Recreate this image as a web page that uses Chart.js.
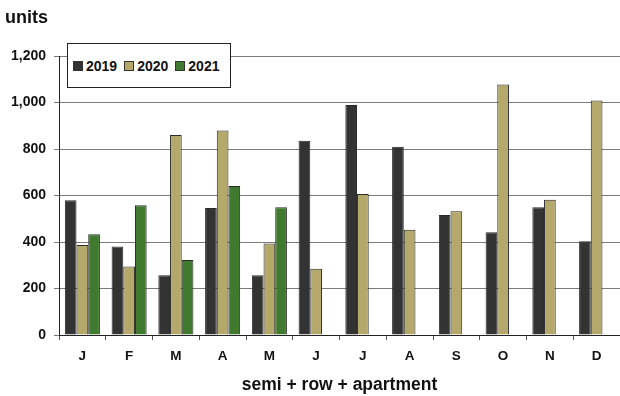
<!DOCTYPE html>
<html>
<head>
<meta charset="utf-8">
<script src="https://cdn.jsdelivr.net/npm/chart.js@4"></script>
<style>
  html, body { margin: 0; padding: 0; background: #fff; }
  #wrap { position: relative; width: 620px; height: 396px; }
  #legend {
    position: absolute; left: 67px; top: 43px; width: 157px; height: 43px;
    border: 1px solid #222; background: #fff;
    display: flex; align-items: center; padding-left: 5px; box-sizing: content-box;
    font: bold 14px "Liberation Sans", Arial, sans-serif; color: #111;
  }
  #legend span.item { display: flex; align-items: center; margin-right: 7px; }
  #legend span.box { width: 8px; height: 8px; border: 1px solid #333; margin-right: 3px; }
</style>
</head>
<body>
<div id="wrap">
  <canvas id="chart" width="620" height="396"></canvas>
  <div id="legend"></div>
</div>
<script>
"use strict";

// Dados
const months = ["J", "F", "M", "A", "M", "J", "J", "A", "S", "O", "N", "D"];
const years = ["2019", "2020", "2021"];
const v2019 = [580, 381, 257, 546, 257, 836, 989, 810, 516, 442, 549, 403];
const v2020 = [387, 295, 860, 880, 394, 285, 606, 453, 532, 1077, 582, 1009];
const v2021 = [433, 558, 323, 641, 549, null, null, null, null, null, null, null];
const yTicks = [0, 200, 400, 600, 800, 1000, 1200];
const colors = ["#333333", "#B5A86B", "#3F7A2E"];

const FONT = "'Liberation Sans', Arial, sans-serif";

// Legenda em HTML
const legend = document.getElementById("legend");
years.forEach((y, i) => {
    const item = document.createElement("span");
    item.className = "item";
    const box = document.createElement("span");
    box.className = "box";
    box.style.background = colors[i];
    item.appendChild(box);
    item.appendChild(document.createTextNode(y));
    legend.appendChild(item);
});

const ctx = document.getElementById("chart").getContext("2d");
new Chart(ctx, {
    type: "bar",
    data: {
        labels: months,
        datasets: [v2019, v2020, v2021].map((d, i) => ({
            label: years[i],
            data: d,
            backgroundColor: colors[i],
            borderColor: "#2a2a2a",
            borderWidth: 1,
            categoryPercentage: 0.75,
            barPercentage: 1
        }))
    },
    options: {
        responsive: false,
        animation: false,
        layout: { padding: { left: 5, right: 0, top: 0, bottom: 0 } },
        plugins: {
            legend: { display: false },
            tooltip: { enabled: false },
            title: {
                display: true,
                text: "units",
                align: "start",
                color: "#111",
                font: { family: FONT, size: 18, weight: "bold" },
                padding: { top: 7, bottom: 27.4 }
            }
        },
        scales: {
            x: {
                afterFit: s => { s.height = 61; },
                border: { color: "#222", width: 1 },
                grid: { drawOnChartArea: false, drawTicks: true, tickLength: 5, color: "#555" },
                ticks: { color: "#111", padding: 8, font: { family: FONT, size: 13.5, weight: "bold" } },
                title: {
                    display: true,
                    text: "semi + row + apartment",
                    color: "#111",
                    font: { family: FONT, size: 17.5, weight: "bold" },
                    padding: { top: 0, bottom: 0 }
                }
            },
            y: {
                min: 0,
                max: 1200,
                afterFit: s => { s.width = 54; },
                afterBuildTicks: s => { s.ticks = yTicks.map(v => ({ value: v })); },
                border: { color: "#222", width: 1 },
                grid: { color: "#7a7a7a", lineWidth: 1, tickLength: 5 },
                ticks: {
                    color: "#111",
                    padding: 8,
                    font: { family: FONT, size: 14, weight: "bold" },
                    callback: v => v.toLocaleString("en-US")
                }
            }
        }
    }
});
</script>
</body>
</html>
